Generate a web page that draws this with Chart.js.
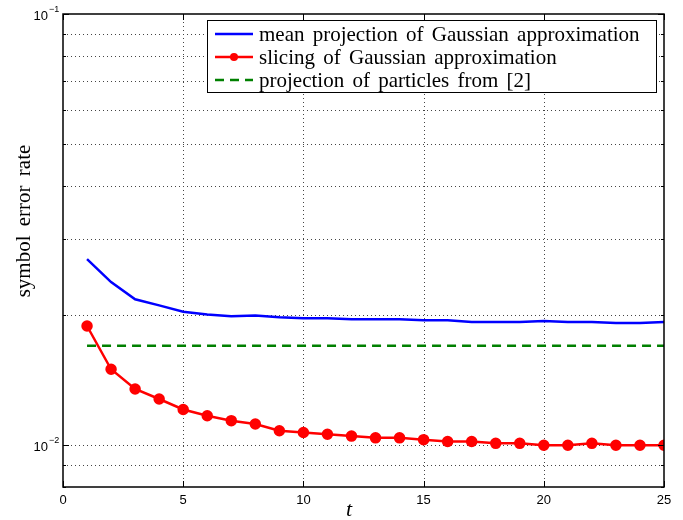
<!DOCTYPE html>
<html>
<head>
<meta charset="utf-8">
<script src="https://cdn.jsdelivr.net/npm/chart.js@4"></script>
<style>
  body { margin: 0; background: #fff; }
  #wrap { width: 683px; height: 520px; }
</style>
</head>
<body>
<div id="wrap"><canvas id="chart-1" width="683" height="520"></canvas></div>
<script>
const t = [1, 2, 3, 4, 5, 6, 7, 8, 9, 10, 11, 12, 13, 14, 15, 16, 17, 18, 19, 20, 21, 22, 23, 24, 25];
const meanProjection = [0.0270, 0.0239, 0.0218, 0.0211, 0.0204, 0.0201, 0.0199, 0.0200, 0.0198, 0.0197, 0.0197, 0.0196,
  0.0196, 0.0196, 0.0195, 0.0195, 0.0193, 0.0193, 0.0193, 0.0194, 0.0193, 0.0193, 0.0192, 0.0192, 0.0193];
const slicing = [0.0189, 0.0150, 0.0135, 0.0128, 0.0121, 0.0117, 0.0114, 0.0112, 0.0108, 0.0107, 0.0106, 0.0105,
  0.0104, 0.0104, 0.0103, 0.0102, 0.0102, 0.0101, 0.0101, 0.0100, 0.0100, 0.0101, 0.0100, 0.0100, 0.0100];
const particles = [0.0170, 0.0170, 0.0170, 0.0170, 0.0170, 0.0170, 0.0170, 0.0170, 0.0170, 0.0170, 0.0170, 0.0170,
  0.0170, 0.0170, 0.0170, 0.0170, 0.0170, 0.0170, 0.0170, 0.0170, 0.0170, 0.0170, 0.0170, 0.0170, 0.0170];
const seriesNames = ['mean projection of Gaussian approximation', 'slicing of Gaussian approximation', 'projection of particles from [2]'];
const xTicks = [0, 5, 10, 15, 20, 25];
const yMajor = [0.01, 0.1];
const yMinor = [0.008, 0.009, 0.02, 0.03, 0.04, 0.05, 0.06, 0.07, 0.08, 0.09];
const yTickLabels = [['10', '\u22122'], ['10', '\u22121']];

const pts = (ys) => t.map((x, i) => ({ x: x, y: ys[i] }));

const frame = {
  id: 'frame',
  beforeDatasetsDraw(chart) {
    const c = chart.ctx, a = chart.chartArea;
    const xs = chart.scales.x, ys = chart.scales.y;
    c.save();
    c.strokeStyle = '#444';
    c.lineWidth = 1;
    c.setLineDash([1, 3]);
    xTicks.slice(1, -1).forEach(v => {
      const px = Math.round(xs.getPixelForValue(v)) + 0.5;
      c.beginPath(); c.moveTo(px, a.top); c.lineTo(px, a.bottom); c.stroke();
    });
    yMajor.concat(yMinor).forEach(v => {
      const py = Math.round(ys.getPixelForValue(v)) + 0.5;
      if (py <= a.top + 1 || py >= a.bottom - 1) return;
      c.beginPath(); c.moveTo(a.left, py); c.lineTo(a.right, py); c.stroke();
    });
    c.restore();
  },
  afterDatasetsDraw(chart) {
    const c = chart.ctx, a = chart.chartArea;
    const xs = chart.scales.x, ys = chart.scales.y;
    c.save();
    c.strokeStyle = '#000';
    c.lineWidth = 1;
    c.setLineDash([]);
    // ticks, inside, all four sides
    c.beginPath();
    xTicks.forEach(v => {
      const px = Math.round(xs.getPixelForValue(v)) + 0.5;
      c.moveTo(px, a.bottom); c.lineTo(px, a.bottom - 6);
      c.moveTo(px, a.top); c.lineTo(px, a.top + 6);
    });
    yMajor.forEach(v => {
      const py = Math.round(ys.getPixelForValue(v)) + 0.5;
      c.moveTo(a.left, py); c.lineTo(a.left + 6, py);
      c.moveTo(a.right, py); c.lineTo(a.right - 6, py);
    });
    yMinor.forEach(v => {
      const py = Math.round(ys.getPixelForValue(v)) + 0.5;
      c.moveTo(a.left, py); c.lineTo(a.left + 3, py);
      c.moveTo(a.right, py); c.lineTo(a.right - 3, py);
    });
    c.stroke();
    // box
    c.lineWidth = 1.5;
    c.strokeRect(a.left, a.top, a.right - a.left, a.bottom - a.top);

    // y tick labels with superscript
    c.fillStyle = '#000';
    c.textBaseline = 'alphabetic';
    yMajor.forEach((v, i) => {
      const py = ys.getPixelForValue(v);
      c.font = '13px "Liberation Sans", Arial, sans-serif';
      c.textAlign = 'right';
      c.fillText(yTickLabels[i][0], 48, py + 6);
      c.font = '9px "Liberation Sans", Arial, sans-serif';
      c.textAlign = 'left';
      c.fillText(yTickLabels[i][1], 49, py - 2);
    });

    // axis titles
    c.font = '21px "Liberation Serif", "Times New Roman", serif';
    c.textAlign = 'center';
    c.wordSpacing = '4px';
    c.save();
    c.translate(30, 221);
    c.rotate(-Math.PI / 2);
    c.fillText('symbol error rate', 0, 0);
    c.restore();
    c.font = 'italic 22px "Liberation Serif", "Times New Roman", serif';
    c.fillText('t', 349, 516);

    // legend
    const lx = 207, ly = 20, lw = 449, lh = 72;
    c.fillStyle = '#fff';
    c.fillRect(lx, ly, lw, lh);
    c.lineWidth = 1;
    c.strokeRect(lx + 0.5, ly + 0.5, lw, lh);
    const rows = [34, 57, 80];
    chart.data.datasets.forEach((ds, i) => {
      c.strokeStyle = ds.borderColor;
      c.lineWidth = 2.5;
      c.setLineDash(ds.borderDash || []);
      c.beginPath(); c.moveTo(215, rows[i]); c.lineTo(253, rows[i]); c.stroke();
      c.setLineDash([]);
      if (ds.pointRadius > 0) {
        c.fillStyle = ds.pointBackgroundColor;
        c.beginPath(); c.arc(234, rows[i], 4, 0, Math.PI * 2); c.fill();
      }
      c.fillStyle = '#000';
      c.textAlign = 'left';
      c.textBaseline = 'middle';
      c.font = '21px "Liberation Serif", "Times New Roman", serif';
      c.wordSpacing = '3px';
      c.fillText(ds.label, 259, rows[i] + 1);
    });
    c.restore();
  }
};

new Chart(document.getElementById('chart-1'), {
  type: 'line',
  data: {
    datasets: [{
      label: seriesNames[0],
      data: pts(meanProjection),
      borderColor: '#0000ff',
      borderWidth: 2.5,
      pointRadius: 0,
      tension: 0
    }, {
      label: seriesNames[1],
      data: pts(slicing),
      borderColor: '#ff0000',
      borderWidth: 2.5,
      pointRadius: 4.5,
      pointBackgroundColor: '#ff0000',
      pointBorderColor: '#ff0000',
      tension: 0
    }, {
      label: seriesNames[2],
      data: pts(particles),
      borderColor: '#008000',
      borderWidth: 2.5,
      borderDash: [9, 6],
      pointRadius: 0,
      tension: 0
    }]
  },
  options: {
    responsive: false,
    animation: false,
    events: [],
    layout: { padding: { top: 14, right: 19, left: 0, bottom: 0 } },
    plugins: { legend: { display: false }, tooltip: { enabled: false } },
    scales: {
      x: {
        type: 'linear',
        min: 0,
        max: 25,
        afterBuildTicks: (s) => { s.ticks = xTicks.map(v => ({ value: v })); },
        afterFit: (s) => { s.height = 33; },
        grid: { display: false, drawTicks: false },
        border: { display: false },
        ticks: { color: '#000', padding: 6, maxRotation: 0, font: { size: 13, family: '"Liberation Sans", Arial, sans-serif' } }
      },
      y: {
        type: 'logarithmic',
        min: 0.008,
        max: 0.1,
        afterFit: (s) => { s.width = 63; },
        grid: { display: false, drawTicks: false },
        border: { display: false },
        ticks: { display: false }
      }
    }
  },
  plugins: [frame]
});
</script>
</body>
</html>
